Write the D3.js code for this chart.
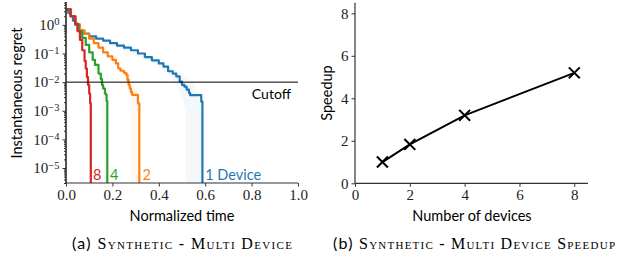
<!DOCTYPE html>
<html>
<head>
<meta charset="utf-8">
<script src="https://cdn.jsdelivr.net/npm/d3@7"></script>
<style>
  body { margin: 0; background: #fff; }
</style>
</head>
<body>
<div id="chart"></div>
<script>
// Synthetic multi device: regret vs normalized time, and speedup

var svgWidth = 618;
var svgHeight = 258;
var serif = "'Liberation Serif', 'DejaVu Serif', serif";
var sans = "Lato, 'Noto Sans', sans-serif";

// regret curves (step), one per number of devices
var time1 = [0, 0.01, 0.02, 0.03, 0.04, 0.05, 0.07, 0.10, 0.13, 0.16, 0.19, 0.22, 0.25, 0.28, 0.31, 0.34, 0.37, 0.40, 0.42, 0.44, 0.46, 0.475, 0.49, 0.50, 0.51, 0.52, 0.53, 0.535, 0.583, 0.588];
var regret1 = [3.5, 2.6, 2.0, 1.4, 1.0, 0.65, 0.5, 0.40, 0.33, 0.28, 0.23, 0.19, 0.16, 0.13, 0.10, 0.075, 0.058, 0.045, 0.035, 0.024, 0.02, 0.016, 0.0105, 0.008, 0.007, 0.0055, 0.0042, 0.0035, 0.0021, 1e-8];

var time2 = [0, 0.02, 0.04, 0.06, 0.08, 0.10, 0.12, 0.14, 0.16, 0.18, 0.20, 0.215, 0.225, 0.235, 0.25, 0.26, 0.265, 0.27, 0.275, 0.28, 0.285, 0.31, 0.316];
var regret2 = [3.5, 2.0, 1.05, 0.65, 0.48, 0.33, 0.23, 0.16, 0.11, 0.08, 0.06, 0.045, 0.03, 0.025, 0.021, 0.018, 0.012, 0.008, 0.006, 0.0045, 0.0036, 0.0018, 1e-8];

var time4 = [0, 0.02, 0.04, 0.055, 0.07, 0.085, 0.10, 0.115, 0.125, 0.14, 0.15, 0.155, 0.16, 0.168, 0.172, 0.175, 0.178];
var regret4 = [3.5, 2.0, 1.05, 0.6, 0.35, 0.2, 0.11, 0.06, 0.04, 0.02, 0.013, 0.008, 0.006, 0.004, 0.0036, 0.0022, 1e-8];

var time8 = [0, 0.02, 0.04, 0.05, 0.06, 0.07, 0.08, 0.085, 0.09, 0.095, 0.10, 0.104, 0.107];
var regret8 = [3.5, 2.0, 1.1, 0.6, 0.3, 0.13, 0.055, 0.03, 0.015, 0.008, 0.004, 0.0018, 1e-8];

// spread of the runs: time range reached at each regret level
var band1Regret = [0.2, 0.05, 0.02, 0.01, 0.003, 0.001, 1e-8];
var band1Lo = [0.19, 0.37, 0.44, 0.47, 0.50, 0.515, 0.515];
var band1Hi = [0.24, 0.41, 0.50, 0.55, 0.57, 0.588, 0.588];
var band2Regret = [0.02, 0.005, 0.001, 1e-8];
var band2Lo = [0.25, 0.27, 0.28, 0.28];
var band2Hi = [0.27, 0.31, 0.316, 0.316];
var band4Regret = [0.01, 0.003, 1e-8];
var band4Lo = [0.15, 0.16, 0.165];
var band4Hi = [0.16, 0.178, 0.178];
var band8Regret = [0.005, 1e-8];
var band8Lo = [0.10, 0.10];
var band8Hi = [0.105, 0.107];

var cutoff = 0.01;

var devices = [1, 2, 4, 8];
var speedup = [1.0, 1.83, 3.2, 5.2];

var xTicksA = [0, 0.2, 0.4, 0.6, 0.8, 1.0];
var yExpA = [0, -1, -2, -3, -4, -5];
var xTicksB = [0, 2, 4, 6, 8];
var yTicksB = [0, 2, 4, 6, 8];

var colors = { 1: "#1f77b4", 2: "#ff7f0e", 4: "#2ca02c", 8: "#d62728" };
var axisColor = "#333";

var svg = d3.select("#chart")
  .append("svg")
  .attr("width", svgWidth)
  .attr("height", svgHeight);

// ---------- (a) regret ----------
var xA = d3.scaleLinear().domain([0, 1]).range([66, 298]);
var yA = d3.scaleLog().domain([3e-6, 6.3]).range([183, 2]);

svg.append("clipPath").attr("id", "clipA")
  .append("rect").attr("x", 66).attr("y", 2).attr("width", 232).attr("height", 181);

var plotA = svg.append("g").attr("clip-path", "url(#clipA)");

var series = [
  { n: 1, t: time1, r: regret1, bR: band1Regret, bLo: band1Lo, bHi: band1Hi },
  { n: 2, t: time2, r: regret2, bR: band2Regret, bLo: band2Lo, bHi: band2Hi },
  { n: 4, t: time4, r: regret4, bR: band4Regret, bLo: band4Lo, bHi: band4Hi },
  { n: 8, t: time8, r: regret8, bR: band8Regret, bLo: band8Lo, bHi: band8Hi }
];

var band = d3.area()
  .y(function(d) { return yA(Math.max(d[0], 1e-7)); })
  .x0(function(d) { return xA(d[1]); })
  .x1(function(d) { return xA(d[2]); });

series.forEach(function(s) {
  plotA.append("path")
    .datum(d3.zip(s.bR, s.bLo, s.bHi))
    .attr("d", band)
    .attr("fill", colors[s.n])
    .attr("opacity", 0.05);
});

var line = d3.line()
  .x(function(d) { return xA(d[0]); })
  .y(function(d) { return yA(Math.max(d[1], 1e-7)); })
  .curve(d3.curveStepAfter);

series.forEach(function(s) {
  plotA.append("path")
    .datum(d3.zip(s.t, s.r))
    .attr("d", line)
    .attr("fill", "none")
    .attr("stroke", colors[s.n])
    .attr("stroke-width", 2.2)
    .attr("stroke-linejoin", "round");
});

svg.append("line")
  .attr("x1", xA(0)).attr("x2", xA(1))
  .attr("y1", yA(cutoff)).attr("y2", yA(cutoff))
  .attr("stroke", "#000").attr("stroke-width", 1);

svg.append("text")
  .style("font-family", sans)
  .attr("x", 291).attr("y", 99)
  .attr("text-anchor", "end").attr("font-size", "14px")
  .text("Cutoff");

// end labels
var endLabels = [
  { n: 8, text: "8", t: 0.116 },
  { n: 4, text: "4", t: 0.19 },
  { n: 2, text: "2", t: 0.33 },
  { n: 1, text: "1 Device", t: 0.6 }
];
svg.selectAll("text.endlab")
  .data(endLabels)
  .enter()
  .append("text")
  .attr("class", "endlab")
  .style("font-family", sans)
  .attr("x", function(d) { return xA(d.t); })
  .attr("y", 180)
  .attr("font-size", "14.5px")
  .attr("fill", function(d) { return colors[d.n]; })
  .text(function(d) { return d.text; });

// axes
var xAxisA = svg.append("g")
  .attr("transform", "translate(0,183)")
  .call(d3.axisBottom(xA).tickValues(xTicksA).tickFormat(d3.format(".1f")).tickSize(3.5).tickPadding(3));

var minorTicks = [];
for (var e = -6; e <= 0; e++) {
  for (var m = 2; m <= 9; m++) {
    var v = m * Math.pow(10, e);
    if (v >= 3e-6 && v <= 6.3) minorTicks.push(v);
  }
}
var yMinorA = svg.append("g")
  .attr("transform", "translate(66,0)")
  .call(d3.axisLeft(yA).tickValues(minorTicks).tickFormat("").tickSize(2));

var yAxisA = svg.append("g")
  .attr("transform", "translate(66,0)")
  .call(d3.axisLeft(yA).tickValues(yExpA.map(function(k) { return Math.pow(10, k); })).tickSize(3.5).tickPadding(3).tickFormat(""));

yAxisA.selectAll(".tick text")
  .each(function(d) {
    var t = d3.select(this);
    var k = Math.round(Math.log10(d));
    t.append("tspan").text("10");
    t.append("tspan").attr("dy", "-0.45em").attr("font-size", "10.5px").text(k === 0 ? "0" : "\u2212" + Math.abs(k));
  });

// ---------- (b) speedup ----------
var xB = d3.scaleLinear().domain([0, 8.5]).range([355, 588]);
var yB = d3.scaleLinear().domain([0, 8.5]).range([183.3, 2.7]);

var xAxisB = svg.append("g")
  .attr("transform", "translate(0,183.3)")
  .call(d3.axisBottom(xB).tickValues(xTicksB).tickSize(3.5).tickPadding(3));
var yAxisB = svg.append("g")
  .attr("transform", "translate(355,0)")
  .call(d3.axisLeft(yB).tickValues(yTicksB).tickSize(3.5).tickPadding(3));

var pts = d3.zip(devices, speedup);
svg.append("path")
  .datum(pts)
  .attr("d", d3.line().x(function(d) { return xB(d[0]); }).y(function(d) { return yB(d[1]); }))
  .attr("fill", "none")
  .attr("stroke", "#000")
  .attr("stroke-width", 2);

var cross = d3.symbol().type(d3.symbolX).size(80);
svg.append("g")
  .selectAll("path")
  .data(pts)
  .enter()
  .append("path")
  .attr("transform", function(d) { return "translate(" + xB(d[0]) + "," + yB(d[1]) + ")"; })
  .attr("d", cross)
  .attr("fill", "none")
  .attr("stroke", "#000")
  .attr("stroke-width", 2);

// axis styling
[xAxisA, yAxisA, yMinorA, xAxisB, yAxisB].forEach(function(a) {
  a.attr("font-family", null).attr("font-size", null);
  a.select(".domain").attr("stroke", axisColor).attr("stroke-width", 1.2);
  a.selectAll(".tick line").attr("stroke", axisColor);
  a.selectAll(".tick text")
    .style("font-family", serif)
    .style("font-size", "15px")
    .attr("fill", "#222");
});
xAxisA.select(".domain").attr("d", "M66,0H298");
xAxisB.select(".domain").attr("d", "M355,0H588");
yAxisA.select(".domain").attr("d", "M0,183V2");
yMinorA.select(".domain").attr("d", "M0,183V2");
yAxisB.select(".domain").attr("d", "M0,183.3V2.7");

// axis labels
function label(x, y, rot, txt) {
  svg.append("text")
    .style("font-family", sans)
    .attr("transform", "translate(" + x + "," + y + ")" + (rot ? " rotate(-90)" : ""))
    .attr("text-anchor", "middle").attr("font-size", "14.5px")
    .text(txt);
}
label(182, 221, false, "Normalized time");
label(22, 93, true, "Instantaneous regret");
label(472, 221, false, "Number of devices");
label(332, 93, true, "Speedup");

// captions
function caption(x, len, tag, txt) {
  var c = svg.append("text")
    .attr("x", x).attr("y", 249)
    .attr("font-size", "16px")
    .attr("textLength", len)
    .attr("lengthAdjust", "spacing");
  c.append("tspan").style("font-family", sans).text(tag + " ");
  c.append("tspan").style("font-family", serif).style("font-variant", "small-caps").text(txt);
}
caption(72, 220, "(a)", "Synthetic - Multi Device");
caption(333, 282, "(b)", "Synthetic - Multi Device Speedup");
</script>
</body>
</html>
